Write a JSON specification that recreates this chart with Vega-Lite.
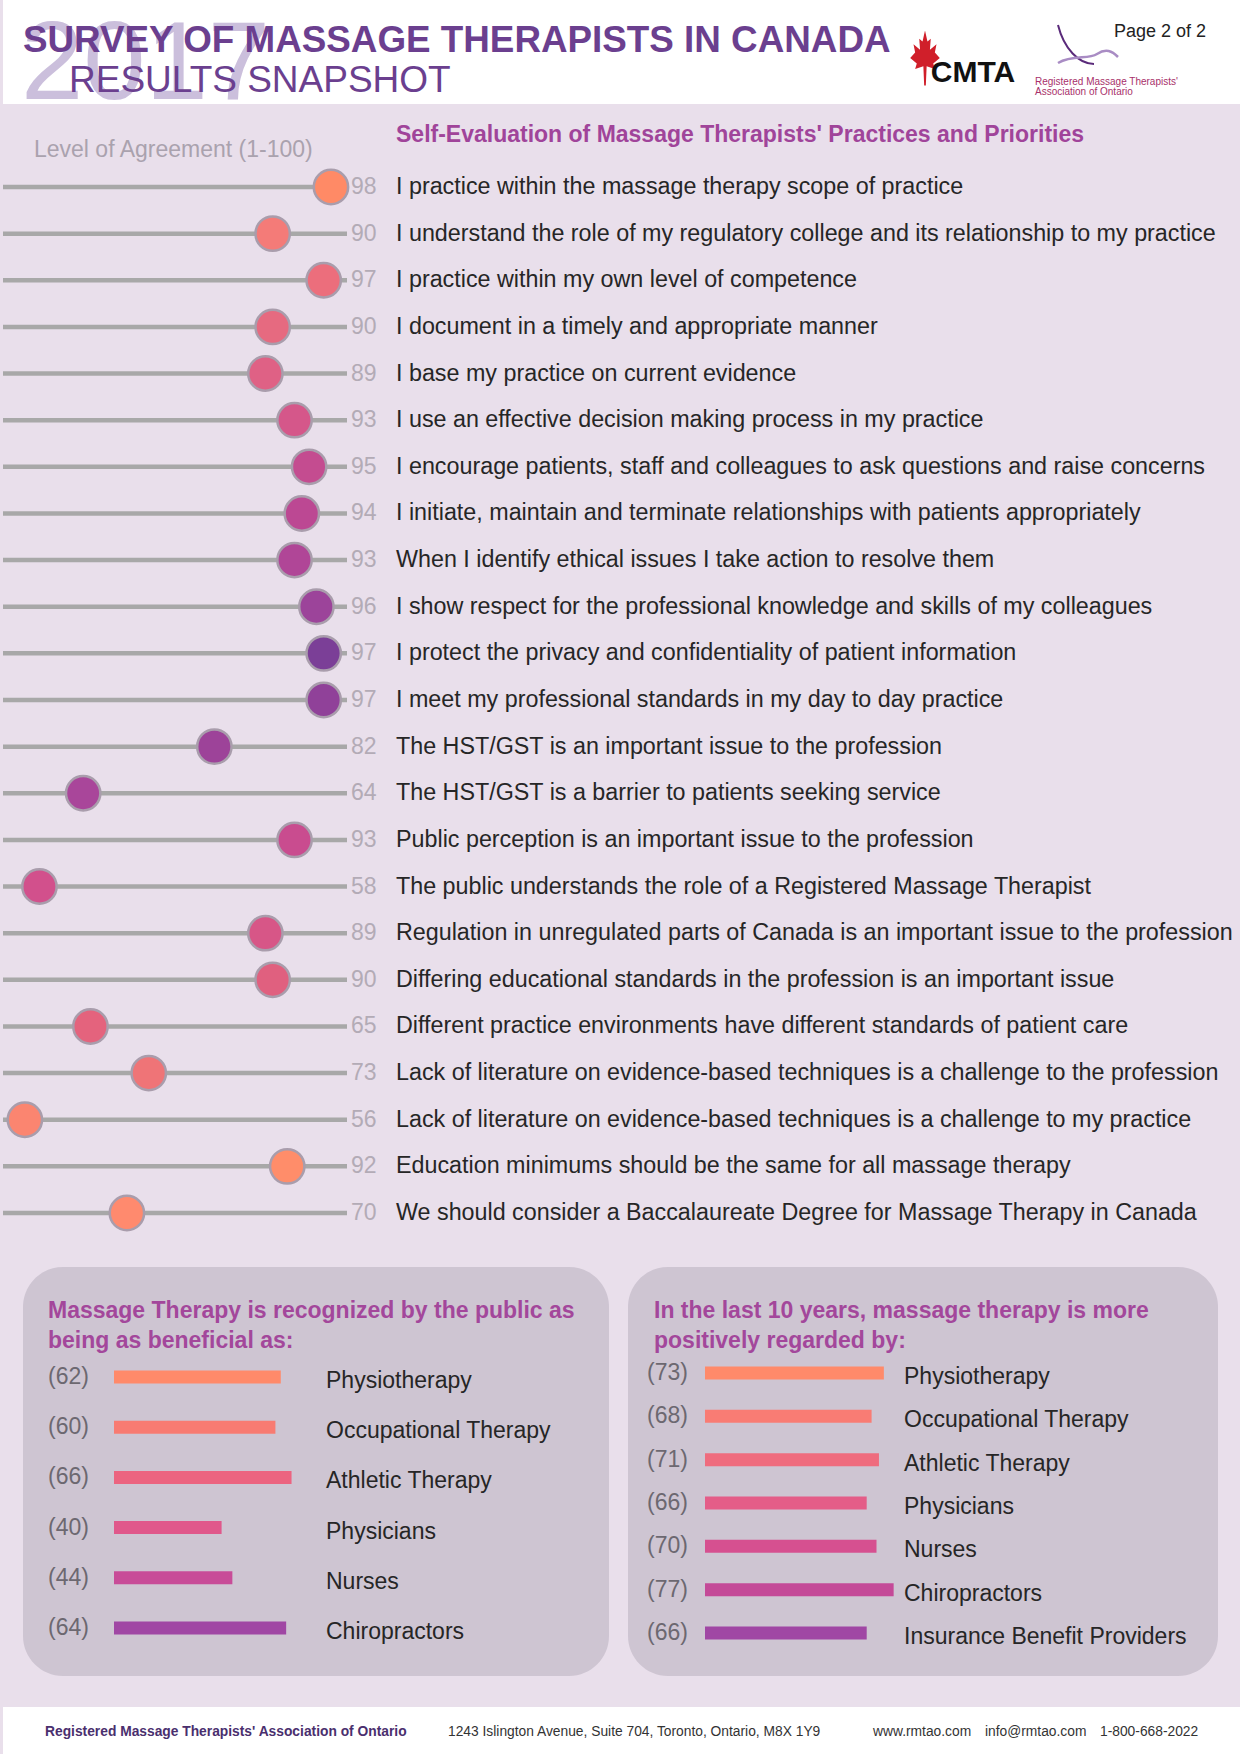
{
  "$schema": "https://vega.github.io/schema/vega-lite/v6.json",
  "padding": 0,
  "background": "#e9dfeb",
  "spacing": 0,
  "resolve": {"scale": {"color": "independent"}},
  "config": {
    "view": {"stroke": null},
    "font": "Liberation Sans",
    "text": {"font": "Liberation Sans"},
    "title": {"font": "Liberation Sans"},
    "axis": {"labelFont": "Liberation Sans", "titleFont": "Liberation Sans"}
  },
  "vconcat": [
    {
      "width": 1240,
      "height": 104,
      "view": {"fill": "#ffffff", "stroke": null},
      "data": {"values": [{"year": "2017", "title": "SURVEY OF MASSAGE THERAPISTS IN CANADA", "sub": "RESULTS SNAPSHOT", "page": "Page 2 of 2", "logo": "CMTA", "org1": "Registered Massage Therapists'", "org2": "Association of Ontario"}]},
      "layer": [
        {"mark": {"type": "text", "clip": true, "align": "left", "baseline": "alphabetic", "fontSize": 112, "color": "#cbbfdc"}, "encoding": {"x": {"value": 18}, "y": {"value": 99}, "text": {"field": "year"}}},
        {"mark": {"type": "text", "align": "left", "baseline": "alphabetic", "fontSize": 36.8, "fontWeight": "bold", "color": "#6b3f8f"}, "encoding": {"x": {"value": 20}, "y": {"value": 52}, "text": {"field": "title"}}},
        {"mark": {"type": "text", "align": "left", "baseline": "alphabetic", "fontSize": 37, "color": "#6b3f8f"}, "encoding": {"x": {"value": 66}, "y": {"value": 92}, "text": {"field": "sub"}}},
        {"mark": {"type": "text", "align": "left", "baseline": "alphabetic", "fontSize": 18, "color": "#222222"}, "encoding": {"x": {"value": 1111}, "y": {"value": 37}, "text": {"field": "page"}}},
        {"mark": {"type": "point", "filled": true, "color": "#d01f2a", "opacity": 1, "size": 3000, "shape": "M0,-1 L0.09,-0.6 L0.21,-0.7 L0.18,-0.3 L0.42,-0.5 L0.36,-0.2 L0.54,0 L0.3,0.2 L0.36,0.4 L0.06,0.3 L0.03,1 L-0.03,1 L-0.06,0.3 L-0.36,0.4 L-0.3,0.2 L-0.54,0 L-0.36,-0.2 L-0.42,-0.5 L-0.18,-0.3 L-0.21,-0.7 L-0.09,-0.6 Z"}, "encoding": {"x": {"value": 922}, "y": {"value": 58}}},
        {"mark": {"type": "text", "align": "center", "baseline": "alphabetic", "fontSize": 30, "fontWeight": "bold", "color": "#111111"}, "encoding": {"x": {"value": 970}, "y": {"value": 82}, "text": {"field": "logo"}}},
        {"mark": {"type": "point", "filled": false, "color": "#5a2a7a", "strokeWidth": 2, "opacity": 1, "size": 3600, "shape": "M-1,-1 C-0.8,-0.2 -0.3,0.3 0.2,0.3"}, "encoding": {"x": {"value": 1085}, "y": {"value": 55}}},
        {"mark": {"type": "point", "filled": false, "color": "#a98cc4", "strokeWidth": 2.5, "opacity": 1, "size": 3600, "shape": "M-1,0.6 C-0.5,0.3 0,0.5 0.3,0.3 C0.6,0.1 0.8,0.2 1,0.4"}, "encoding": {"x": {"value": 1085}, "y": {"value": 45}}},
        {"mark": {"type": "text", "align": "left", "baseline": "alphabetic", "fontSize": 10, "color": "#a8306a"}, "encoding": {"x": {"value": 1032}, "y": {"value": 85}, "text": {"field": "org1"}}},
        {"mark": {"type": "text", "align": "left", "baseline": "alphabetic", "fontSize": 10, "color": "#a8306a"}, "encoding": {"x": {"value": 1032}, "y": {"value": 95}, "text": {"field": "org2"}}}
      ]
    },
    {
      "width": 1240,
      "height": 1163,
      "data": {"values": [
        {"id": 1, "value": 98, "statement": "I practice within the massage therapy scope of practice"},
        {"id": 2, "value": 90, "statement": "I understand the role of my regulatory college and its relationship to my practice"},
        {"id": 3, "value": 97, "statement": "I practice within my own level of competence"},
        {"id": 4, "value": 90, "statement": "I document in a timely and appropriate manner"},
        {"id": 5, "value": 89, "statement": "I base my practice on current evidence"},
        {"id": 6, "value": 93, "statement": "I use an effective decision making process in my practice"},
        {"id": 7, "value": 95, "statement": "I encourage patients, staff and colleagues to ask questions and raise concerns"},
        {"id": 8, "value": 94, "statement": "I initiate, maintain and terminate relationships with patients appropriately"},
        {"id": 9, "value": 93, "statement": "When I identify ethical issues I take action to resolve them"},
        {"id": 10, "value": 96, "statement": "I show respect for the professional knowledge and skills of my colleagues"},
        {"id": 11, "value": 97, "statement": "I protect the privacy and confidentiality of patient information"},
        {"id": 12, "value": 97, "statement": "I meet my professional standards in my day to day practice"},
        {"id": 13, "value": 82, "statement": "The HST/GST is an important issue to the profession"},
        {"id": 14, "value": 64, "statement": "The HST/GST is a barrier to patients seeking service"},
        {"id": 15, "value": 93, "statement": "Public perception is an important issue to the profession"},
        {"id": 16, "value": 58, "statement": "The public understands the role of a Registered Massage Therapist"},
        {"id": 17, "value": 89, "statement": "Regulation in unregulated parts of Canada is an important issue to the profession"},
        {"id": 18, "value": 90, "statement": "Differing educational standards in the profession is an important issue"},
        {"id": 19, "value": 65, "statement": "Different practice environments have different standards of patient care"},
        {"id": 20, "value": 73, "statement": "Lack of literature on evidence-based techniques is a challenge to the profession"},
        {"id": 21, "value": 56, "statement": "Lack of literature on evidence-based techniques is a challenge to my practice"},
        {"id": 22, "value": 92, "statement": "Education minimums should be the same for all massage therapy"},
        {"id": 23, "value": 70, "statement": "We should consider a Baccalaureate Degree for Massage Therapy in Canada"}
      ]},
      "layer": [
        {
          "data": {"values": [{"heading": "Self-Evaluation of Massage Therapists' Practices and Priorities", "axisTitle": "Level of Agreement (1-100)"}]},
          "layer": [
            {"mark": {"type": "text", "align": "left", "baseline": "alphabetic", "fontSize": 23, "fontWeight": "bold", "color": "#a0449a"}, "encoding": {"x": {"value": 393}, "y": {"value": 38}, "text": {"field": "heading"}}},
            {"mark": {"type": "text", "align": "left", "baseline": "alphabetic", "fontSize": 23, "color": "#aaa2ae"}, "encoding": {"x": {"value": 31}, "y": {"value": 53}, "text": {"field": "axisTitle"}}}
          ]
        },
        {
          "encoding": {
            "y": {"field": "id", "type": "ordinal", "scale": {"type": "point", "range": [83, 1109], "padding": 0}, "axis": null}
          },
          "layer": [
            {
              "mark": {"type": "rule", "color": "#a8a8a8", "strokeWidth": 4.5},
              "encoding": {
                "x": {"datum": 53, "type": "quantitative", "scale": {"domain": [53, 100.2], "range": [0, 344], "nice": false, "zero": false}, "axis": null},
                "x2": {"datum": 100.2}
              }
            },
            {
              "mark": {"type": "circle", "size": 1180, "opacity": 1, "stroke": "#a99dac", "strokeWidth": 2.5},
              "encoding": {
                "x": {"field": "value", "type": "quantitative"},
                "color": {"field": "id", "type": "ordinal", "legend": null,
                  "scale": {"range": ["#ff8a66","#f47b78","#ec6e7c","#e66a80","#df6185","#d5578a","#c44c90","#bc4893","#b04697","#9c449a","#7b3f97","#904199","#9d4399","#a9469a","#c94c8f","#d2508c","#d75687","#e0607f","#e4637d","#ef7477","#fb8570","#ff8d6a","#ff8a6e"]}}
              }
            },
            {
              "mark": {"type": "text", "align": "left", "baseline": "middle", "dx": 4, "fontSize": 23, "color": "#b3abb6"},
              "encoding": {"x": {"datum": 100.2}, "text": {"field": "value"}}
            },
            {
              "mark": {"type": "text", "align": "left", "baseline": "middle", "dx": 49, "fontSize": 23.3, "color": "#262626"},
              "encoding": {"x": {"datum": 100.2}, "text": {"field": "statement"}}
            }
          ]
        }
      ]
    },
    {
      "spacing": 19,
      "resolve": {"scale": {"color": "independent", "x": "independent", "y": "independent"}},
      "hconcat": [
        {"width": 1, "height": 409, "data": {"values": []}, "mark": "point"},
        {
          "width": 586,
          "height": 409,
          "view": {"fill": "#cec5d2", "cornerRadius": 40, "stroke": null},
          "data": {"values": [
            {"id": 1, "group": "Physiotherapy", "value": 62, "label": "(62)"},
            {"id": 2, "group": "Occupational Therapy", "value": 60, "label": "(60)"},
            {"id": 3, "group": "Athletic Therapy", "value": 66, "label": "(66)"},
            {"id": 4, "group": "Physicians", "value": 40, "label": "(40)"},
            {"id": 5, "group": "Nurses", "value": 44, "label": "(44)"},
            {"id": 6, "group": "Chiropractors", "value": 64, "label": "(64)"}
          ]},
          "layer": [
            {
              "data": {"values": [{"heading": "Massage Therapy is recognized by the public as\nbeing as beneficial as:"}]},
              "mark": {"type": "text", "align": "left", "baseline": "alphabetic", "lineBreak": "\n", "lineHeight": 30, "fontSize": 23, "fontWeight": "bold", "color": "#a3479b"},
              "encoding": {"x": {"value": 25}, "y": {"value": 51}, "text": {"field": "heading"}}
            },
            {
              "encoding": {"y": {"field": "id", "type": "ordinal", "scale": {"type": "point", "range": [110, 361], "padding": 0}, "axis": null}},
              "layer": [
                {
                  "mark": {"type": "rule", "strokeWidth": 13, "strokeCap": "butt"},
                  "encoding": {
                    "x": {"field": "value", "type": "quantitative", "scale": {"domain": [0, 100], "range": [91, 360]}, "axis": null},
                    "x2": {"datum": 0},
                    "color": {"field": "id", "type": "ordinal", "legend": null, "scale": {"range": ["#ff8a6a","#f87b72","#ec6480","#e0588b","#c84c98","#a047a4"]}}
                  }
                },
                {
                  "mark": {"type": "text", "align": "left", "baseline": "middle", "dx": -66, "fontSize": 23, "color": "#6c6870"},
                  "encoding": {"x": {"datum": 0}, "text": {"field": "label"}}
                },
                {
                  "mark": {"type": "text", "align": "left", "baseline": "middle", "dx": 212, "dy": 4, "fontSize": 23, "color": "#262626"},
                  "encoding": {"x": {"datum": 0}, "text": {"field": "group"}}
                }
              ]
            }
          ]
        },
        {
          "width": 590,
          "height": 409,
          "view": {"fill": "#cec5d2", "cornerRadius": 40, "stroke": null},
          "data": {"values": [
            {"id": 1, "group": "Physiotherapy", "value": 73, "label": "(73)"},
            {"id": 2, "group": "Occupational Therapy", "value": 68, "label": "(68)"},
            {"id": 3, "group": "Athletic Therapy", "value": 71, "label": "(71)"},
            {"id": 4, "group": "Physicians", "value": 66, "label": "(66)"},
            {"id": 5, "group": "Nurses", "value": 70, "label": "(70)"},
            {"id": 6, "group": "Chiropractors", "value": 77, "label": "(77)"},
            {"id": 7, "group": "Insurance Benefit Providers", "value": 66, "label": "(66)"}
          ]},
          "layer": [
            {
              "data": {"values": [{"heading": "In the last 10 years, massage therapy is more\npositively regarded by:"}]},
              "mark": {"type": "text", "align": "left", "baseline": "alphabetic", "lineBreak": "\n", "lineHeight": 30, "fontSize": 23, "fontWeight": "bold", "color": "#a3479b"},
              "encoding": {"x": {"value": 26}, "y": {"value": 51}, "text": {"field": "heading"}}
            },
            {
              "encoding": {"y": {"field": "id", "type": "ordinal", "scale": {"type": "point", "range": [106, 366], "padding": 0}, "axis": null}},
              "layer": [
                {
                  "mark": {"type": "rule", "strokeWidth": 13, "strokeCap": "butt"},
                  "encoding": {
                    "x": {"field": "value", "type": "quantitative", "scale": {"domain": [0, 100], "range": [77, 322]}, "axis": null},
                    "x2": {"datum": 0},
                    "color": {"field": "id", "type": "ordinal", "legend": null, "scale": {"range": ["#ff8a6a","#f97c74","#ef6c7e","#e45d88","#d65090","#c44a98","#a047a4"]}}
                  }
                },
                {
                  "mark": {"type": "text", "align": "left", "baseline": "middle", "dx": -58, "fontSize": 23, "color": "#6c6870"},
                  "encoding": {"x": {"datum": 0}, "text": {"field": "label"}}
                },
                {
                  "mark": {"type": "text", "align": "left", "baseline": "middle", "dx": 199, "dy": 4, "fontSize": 23, "color": "#262626"},
                  "encoding": {"x": {"datum": 0}, "text": {"field": "group"}}
                }
              ]
            }
          ]
        }
      ]
    },
    {"width": 1, "height": 31, "data": {"values": []}, "mark": "point"},
    {
      "width": 1240,
      "height": 47,
      "view": {"fill": "#ffffff", "stroke": null},
      "data": {"values": [{"org": "Registered Massage Therapists' Association of Ontario", "address": "1243 Islington Avenue, Suite 704, Toronto, Ontario, M8X 1Y9", "web": "www.rmtao.com", "email": "info@rmtao.com", "phone": "1-800-668-2022"}]},
      "layer": [
        {"mark": {"type": "text", "align": "left", "baseline": "alphabetic", "fontSize": 13.8, "fontWeight": "bold", "color": "#4a2f6e"}, "encoding": {"x": {"value": 42}, "y": {"value": 29}, "text": {"field": "org"}}},
        {"mark": {"type": "text", "align": "left", "baseline": "alphabetic", "fontSize": 13.8, "color": "#333333"}, "encoding": {"x": {"value": 445}, "y": {"value": 29}, "text": {"field": "address"}}},
        {"mark": {"type": "text", "align": "left", "baseline": "alphabetic", "fontSize": 13.8, "color": "#333333"}, "encoding": {"x": {"value": 870}, "y": {"value": 29}, "text": {"field": "web"}}},
        {"mark": {"type": "text", "align": "left", "baseline": "alphabetic", "fontSize": 13.8, "color": "#333333"}, "encoding": {"x": {"value": 982}, "y": {"value": 29}, "text": {"field": "email"}}},
        {"mark": {"type": "text", "align": "left", "baseline": "alphabetic", "fontSize": 13.8, "color": "#333333"}, "encoding": {"x": {"value": 1097}, "y": {"value": 29}, "text": {"field": "phone"}}}
      ]
    }
  ]
}
